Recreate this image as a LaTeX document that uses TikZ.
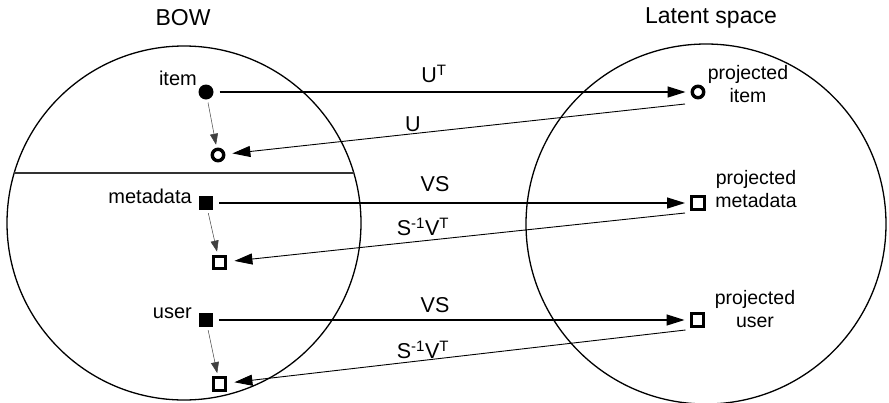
\documentclass[tikz,border=0pt]{standalone}
\usepackage{fontspec}
\setmainfont{Liberation Sans}
\usetikzlibrary{arrows.meta,calc}
\begin{document}
\begin{tikzpicture}[x=1pt,y=-1pt,
  title/.style={font=\fontsize{23}{27}\selectfont, inner sep=0pt},
  lbl/.style={font=\fontsize{20}{23}\selectfont, inner sep=0pt},
  albl/.style={font=\fontsize{21.5}{25}\selectfont, inner sep=0pt},
  plbl/.style={font=\fontsize{19.5}{23}\selectfont, inner sep=0pt, align=center},
  fdot/.style={circle, fill=black, minimum size=15pt, inner sep=0pt},
  hdot/.style={circle, draw=black, line width=3.4pt, minimum size=11.5pt, inner sep=0pt},
  fsq/.style={rectangle, fill=black, minimum size=14pt, inner sep=0pt},
  hsq/.style={rectangle, draw=black, line width=3.4pt, minimum size=12.5pt, inner sep=0pt},
  fwd/.style={line width=1.2pt, -{Triangle[length=18pt,width=11pt]}, shorten <=6pt, shorten >=5pt},
  back/.style={line width=0.9pt, -{Triangle[length=18pt,width=11pt]}, shorten >=7pt},
  down/.style={line width=0.5pt, draw=black!75, -{Triangle[length=11pt,width=8pt]}, shorten <=3pt, shorten >=3pt},
  ring/.style={line width=1.3pt},
]
\useasboundingbox (0,0) rectangle (889,402);
% circles
\draw[ring] (184,223) circle[radius=177pt];
\draw[ring] (706,224) circle[radius=180pt];
\coordinate (chordL) at (14.2,173);
\coordinate (chordR) at (353.8,173);
\draw[line width=1.3pt, black!80] (chordL) -- (chordR);
% titles
\node[title] (tbow) at (183,18) {BOW};
\node[title] (tlat) at (711,18) {Latent space};
% left nodes
\node[fdot] (item) at (206,92) {};
\node[hdot] (item2) at (218,155) {};
\node[fsq] (meta) at (206,203) {};
\node[hsq] (meta2) at (219.5,262.5) {};
\node[fsq] (user) at (206,320) {};
\node[hsq] (user2) at (219.5,384) {};
\node[lbl, anchor=base east] (litem) at (197,85) {item};
\node[lbl, anchor=base east] (lmeta) at (192,203) {metadata};
\node[lbl, anchor=base east] (luser) at (192,318) {user};
% right nodes
\node[hdot] (pitem) at (698,92) {};
\node[hsq] (pmeta) at (698,203) {};
\node[hsq] (puser) at (697.5,320) {};
\node[plbl] (lpitem) at (748,84.5) {projected\\item};
\node[plbl] (lpmeta) at (756,189.5) {projected\\metadata};
\node[plbl] (lpuser) at (755,309) {projected\\user};
% tails of return arrows
\coordinate (pitemtail) at ($(pitem)+(-13,12)$);
\coordinate (pmetatail) at ($(pmeta)+(-13,10)$);
\coordinate (pusertail) at ($(puser)+(-12,10)$);
% forward arrows
\draw[fwd] (item) -- (pitem);
\draw[fwd] (meta) -- (pmeta);
\draw[fwd] (user) -- (puser);
% return arrows
\draw[back] (pitemtail) -- (item2);
\draw[back] (pmetatail) -- (meta2);
\draw[back] (pusertail) -- (user2);
% down arrows
\draw[down] (item) -- (item2);
\draw[down] (meta) -- (meta2);
\draw[down] (user) -- (user2);
% arrow labels
\node[albl] (lUT) at (434,74) {U\textsuperscript{T}};
\node[albl] (lU) at (413,124) {U};
\node[albl] (lVS1) at (435,184) {VS};
\node[albl] (lSV1) at (423,227) {S\textsuperscript{-1}V\textsuperscript{T}};
\node[albl] (lVS2) at (435,305) {VS};
\node[albl] (lSV2) at (423,350) {S\textsuperscript{-1}V\textsuperscript{T}};
\end{tikzpicture}
\end{document}
